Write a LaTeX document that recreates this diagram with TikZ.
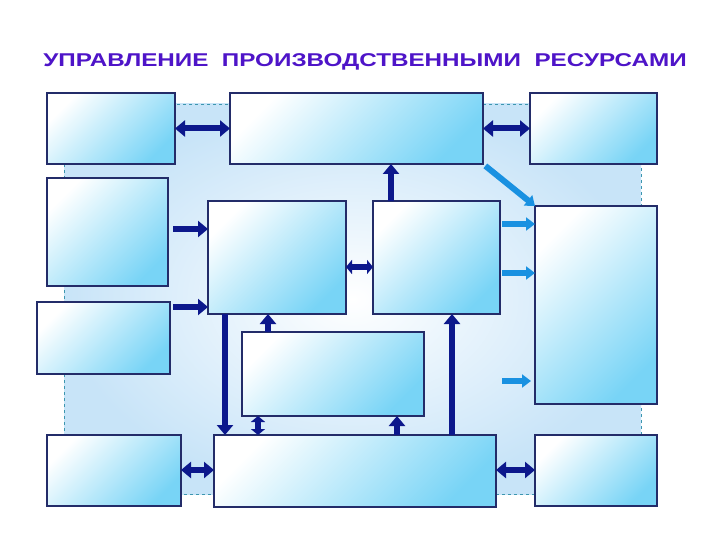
\documentclass[tikz,border=0pt]{standalone}
\usepackage{fontspec}
\setmainfont{Liberation Sans}
\usetikzlibrary{arrows.meta,calc}
\definecolor{navy}{RGB}{12,24,140}
\definecolor{framec}{RGB}{35,44,105}
\definecolor{boxblue}{RGB}{120,212,246}
\definecolor{bgblue}{RGB}{200,228,248}
\definecolor{lightarr}{RGB}{25,145,225}
\definecolor{titlec}{RGB}{78,20,200}
\definecolor{dashc}{RGB}{60,150,175}
\tikzset{
  box/.style={draw=framec, line width=2pt, top color=white, bottom color=boxblue, shading angle=45, inner sep=0pt, outer sep=0pt},
  darr/.style={draw=navy, line width=6pt, -{Triangle[length=10pt,width=16pt]}},
  ddarr/.style={draw=navy, line width=6pt, {Triangle[length=10pt,width=16pt]}-{Triangle[length=10pt,width=16pt]}},
  sdarr/.style={draw=navy, line width=6pt, {Triangle[length=6pt,width=14pt]}-{Triangle[length=6pt,width=14pt]}},
  larr/.style={draw=lightarr, line width=6pt, -{Triangle[length=9pt,width=13pt]}},
}
\begin{document}
\begin{tikzpicture}[x=1pt,y=-1pt]
\useasboundingbox (0,0) rectangle (720,540);
\fill[white] (0,0) rectangle (720,540);
% background panel
\shade[inner color=white, outer color=bgblue] (64,104) rectangle (641,494);
\draw[dashc, line width=0.8pt, dashed] (64,104) rectangle (641,494);
% title
\node[font=\bfseries\fontsize{18.5}{22}\selectfont, text=titlec, xscale=1.31] (title) at (365,62) {УПРАВЛЕНИЕ\ \ ПРОИЗВОДСТВЕННЫМИ\ \ РЕСУРСАМИ};
% boxes
\node[box, minimum width=128pt, minimum height=71pt] (b1) at (111,128.5) {};
\node[box, minimum width=253pt, minimum height=71pt] (b2) at (356.5,128.5) {};
\node[box, minimum width=127pt, minimum height=71pt] (b3) at (593.5,128.5) {};
\node[box, minimum width=121pt, minimum height=108pt] (b4) at (107.5,232) {};
\node[box, minimum width=133pt, minimum height=72pt] (b5) at (103.5,338) {};
\node[box, minimum width=138pt, minimum height=113pt] (b6) at (277,257.5) {};
\node[box, minimum width=127pt, minimum height=113pt] (b7) at (436.5,257.5) {};
\node[box, minimum width=182pt, minimum height=84pt] (b8) at (333,374) {};
\node[box, minimum width=122pt, minimum height=198pt] (b9) at (596,305) {};
\node[box, minimum width=134pt, minimum height=71pt] (b10) at (114,470.5) {};
\node[box, minimum width=282pt, minimum height=72pt] (b11) at (355,471) {};
\node[box, minimum width=122pt, minimum height=71pt] (b12) at (596,470.5) {};
% helper coordinates
\coordinate (ya) at (0,229);
\coordinate (yb) at (0,307);
\coordinate (yc) at (0,267);
\coordinate (yd) at (0,224);
\coordinate (ye) at (0,273);
\coordinate (yf) at (0,470);
\coordinate (xa) at (391,0);
\coordinate (xb) at (225,0);
\coordinate (xc) at (268,0);
\coordinate (xd) at (258,0);
\coordinate (xe) at (397,0);
\coordinate (xf) at (452,0);
\coordinate (f1) at (502,381);
\coordinate (f2) at (531,381);
% arrows
\draw[ddarr] (b1) -- (b2);
\draw[ddarr] (b2) -- (b3);
\draw[darr] (b7.north -| xa) -- (b2.south -| xa);
\draw[larr, shorten <=3pt] (b2.south east) -- (b9.north west);
\draw[darr, shorten <=5pt] (b4.east |- ya) -- (b6.west |- ya);
\draw[darr, shorten <=3pt] (b5.east |- yb) -- (b6.west |- yb);
\draw[sdarr] (b6.east |- yc) -- (b7.west |- yc);
\draw[larr, shorten <=2pt] (b7.east |- yd) -- (b9.west |- yd);
\draw[larr, shorten <=2pt] (b7.east |- ye) -- (b9.west |- ye);
\draw[larr] (f1) -- (f2);
\draw[darr] (b6.south -| xb) -- (b11.north -| xb);
\draw[darr] (b8.north -| xc) -- (b6.south -| xc);
\draw[sdarr] (b8.south -| xd) -- (b11.north -| xd);
\draw[darr] (b11.north -| xe) -- (b8.south -| xe);
\draw[darr] (b11.north -| xf) -- (b7.south -| xf);
\draw[ddarr] (b10.east |- yf) -- (b11.west |- yf);
\draw[ddarr] (b11.east |- yf) -- (b12.west |- yf);
\end{tikzpicture}
\end{document}
